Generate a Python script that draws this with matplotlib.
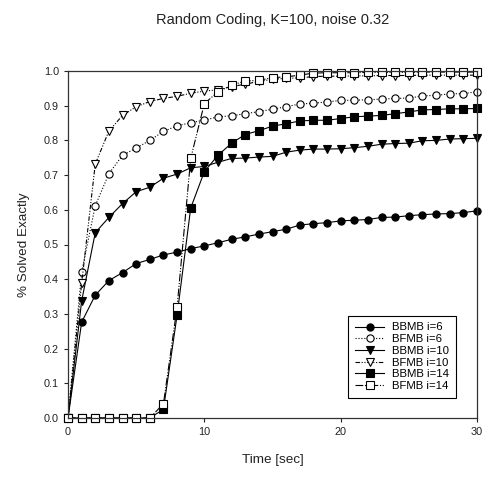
import numpy as np
import matplotlib
matplotlib.use('Agg')
import matplotlib.pyplot as plt

plt.rcParams['font.family'] = ['Liberation Sans', 'DejaVu Sans']

time_sec = list(range(31))

bbmb_i6 = [0, 0.276, 0.354, 0.396, 0.419, 0.445, 0.457, 0.470, 0.478, 0.488, 0.496,
           0.505, 0.515, 0.522, 0.530, 0.537, 0.544, 0.556, 0.560, 0.563, 0.568,
           0.570, 0.572, 0.578, 0.579, 0.583, 0.586, 0.588, 0.589, 0.592, 0.597]
bfmb_i6 = [0, 0.420, 0.612, 0.704, 0.757, 0.778, 0.800, 0.826, 0.842, 0.851, 0.858,
           0.868, 0.871, 0.877, 0.883, 0.890, 0.897, 0.905, 0.907, 0.911, 0.915,
           0.916, 0.917, 0.919, 0.921, 0.922, 0.928, 0.930, 0.934, 0.935, 0.940]
bbmb_i10 = [0, 0.337, 0.534, 0.578, 0.618, 0.652, 0.665, 0.691, 0.703, 0.721, 0.725,
            0.737, 0.748, 0.749, 0.752, 0.754, 0.766, 0.772, 0.775, 0.775, 0.776,
            0.779, 0.783, 0.789, 0.791, 0.792, 0.799, 0.800, 0.804, 0.805, 0.806]
bfmb_i10 = [0, 0.388, 0.732, 0.827, 0.872, 0.897, 0.912, 0.921, 0.927, 0.936, 0.942,
            0.946, 0.955, 0.962, 0.970, 0.976, 0.979, 0.980, 0.984, 0.985, 0.985,
            0.986, 0.986, 0.987, 0.987, 0.987, 0.988, 0.988, 0.988, 0.988, 0.988]
bbmb_i14 = [0, 0, 0, 0, 0, 0, 0, 0.025, 0.296, 0.605, 0.710,
            0.757, 0.792, 0.817, 0.828, 0.841, 0.848, 0.856, 0.858, 0.858, 0.863,
            0.868, 0.870, 0.872, 0.877, 0.882, 0.888, 0.889, 0.891, 0.891, 0.892]
bfmb_i14 = [0, 0, 0, 0, 0, 0, 0, 0.041, 0.319, 0.748, 0.906,
            0.940, 0.959, 0.971, 0.973, 0.981, 0.983, 0.988, 0.994, 0.995, 0.995,
            0.995, 0.996, 0.996, 0.996, 0.996, 0.997, 0.997, 0.997, 0.997, 0.997]

series = [
    ('BBMB i=6', bbmb_i6, 'o', 'k', '-'),
    ('BFMB i=6', bfmb_i6, 'o', 'w', ':'),
    ('BBMB i=10', bbmb_i10, 'v', 'k', '-'),
    ('BFMB i=10', bfmb_i10, 'v', 'w', (0, (4, 1.5, 1, 1.5, 1, 1.5))),
    ('BBMB i=14', bbmb_i14, 's', 'k', '-'),
    ('BFMB i=14', bfmb_i14, 's', 'w', (0, (7, 1.5, 1, 1.5, 1, 1.5))),
]

fig = plt.figure(figsize=(4.85, 4.83), dpi=100)
ax = fig.add_axes([68 / 485, 1 - 418 / 483, 409 / 485, 347 / 483])

for label, vals, marker, face, ls in series:
    ax.plot(time_sec, vals, color='k', linestyle=ls, linewidth=0.8,
            marker=marker, markersize=5.2, markerfacecolor=face,
            markeredgecolor='k', markeredgewidth=0.8, label=label, clip_on=False)

ax.set_xlim(0, 30)
ax.set_ylim(0, 1.0)
ax.set_xticks([0, 10, 20, 30])
ax.set_yticks(np.arange(0, 1.01, 0.1))
ax.set_yticklabels(['%.1f' % v for v in np.arange(0, 1.01, 0.1)])
ax.tick_params(direction='out', length=3, width=0.8, labelsize=7.8, colors='#222222')
for sp in ax.spines.values():
    sp.set_linewidth(0.9)
    sp.set_color('#333333')

ax.set_xlabel('Time [sec]', fontsize=9.7, labelpad=12, color='#222222')
ax.set_ylabel('% Solved Exactly', fontsize=9.7, labelpad=10, color='#222222')

fig.text(272.5 / 485, 1 - 20 / 483, 'Random Coding, K=100, noise 0.32',
         ha='center', va='center', fontsize=10.5, color='#222222')

leg = ax.legend(loc='lower right', bbox_to_anchor=(0.949, 0.058), borderaxespad=0,
                fontsize=8.2, numpoints=1, handlelength=2.6, fancybox=False,
                framealpha=1, edgecolor='k', labelspacing=0.15, handletextpad=0.7,
                borderpad=0.6)
leg.get_frame().set_linewidth(0.8)

fig.savefig('out.png', dpi=100)
